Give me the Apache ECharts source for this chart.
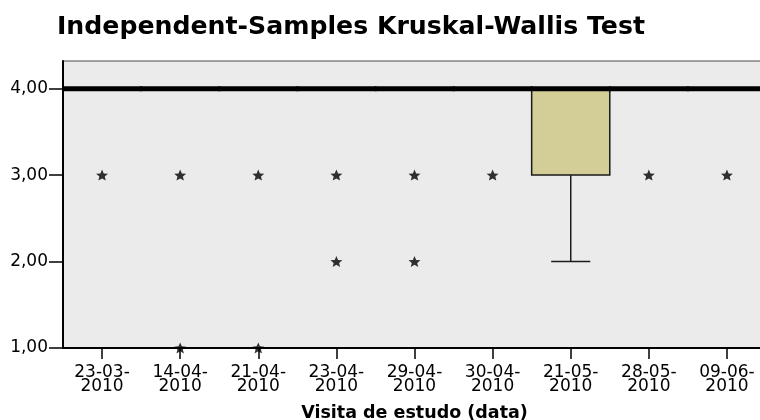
<!DOCTYPE html>
<html>
<head>
<meta charset="utf-8">
<script src="https://cdn.jsdelivr.net/npm/echarts@6/dist/echarts.min.js"></script>
<style>
  html, body { margin: 0; padding: 0; background: #ffffff; }
  #chart { width: 760px; height: 420px; }
</style>
</head>
<body>
<div id="chart"></div>
<script>
// Visit dates (categories)
const categories = ['23-03-2010', '14-04-2010', '21-04-2010', '23-04-2010', '29-04-2010',
                    '30-04-2010', '21-05-2010', '28-05-2010', '09-06-2010'];

// Box statistics per visit
const whiskerLow  = [4, 4, 4, 4, 4, 4, 2, 4, 4];
const quartile1   = [4, 4, 4, 4, 4, 4, 3, 4, 4];
const medians     = [4, 4, 4, 4, 4, 4, 4, 4, 4];
const quartile3   = [4, 4, 4, 4, 4, 4, 4, 4, 4];
const whiskerHigh = [4, 4, 4, 4, 4, 4, 4, 4, 4];

// Extreme values: [category index, value]
const extremes = [
  [0, 3],
  [1, 3], [1, 1],
  [2, 3], [2, 1],
  [3, 3], [3, 2],
  [4, 3], [4, 2],
  [5, 3],
  [7, 3],
  [8, 3]
];

// Y axis tick values
const yTicks = [1, 2, 3, 4];

const boxData = categories.map((c, i) =>
  [i, whiskerLow[i], quartile1[i], medians[i], quartile3[i], whiskerHigh[i]]);

const starPath = 'path://M10,0L12.645,6.359L19.511,6.910L14.280,11.391L15.878,18.090L10,14.5L4.122,18.090L5.720,11.391L0.489,6.910L7.355,6.359Z';

const labelFont = 'DejaVu Sans';

function renderBox(params, api) {
  const idx = api.value(0);
  const lo = api.value(1), q1 = api.value(2), med = api.value(3), q3 = api.value(4), hi = api.value(5);
  const bw = api.size([1, 0])[0];
  const x = api.coord([idx, med])[0];
  const yLo = api.coord([idx, lo])[1];
  const yQ1 = api.coord([idx, q1])[1];
  const yMed = api.coord([idx, med])[1];
  const yQ3 = api.coord([idx, q3])[1];
  const yHi = api.coord([idx, hi])[1];
  const lineStyle = { stroke: '#1a1a1a', lineWidth: 1.5, fill: null };
  const children = [];
  if (lo < q1) {
    children.push({ type: 'line', shape: { x1: x, y1: yQ1, x2: x, y2: yLo }, style: lineStyle });
    children.push({ type: 'line', shape: { x1: x - bw / 4, y1: yLo, x2: x + bw / 4, y2: yLo }, style: lineStyle });
  }
  if (hi > q3) {
    children.push({ type: 'line', shape: { x1: x, y1: yQ3, x2: x, y2: yHi }, style: lineStyle });
    children.push({ type: 'line', shape: { x1: x - bw / 4, y1: yHi, x2: x + bw / 4, y2: yHi }, style: lineStyle });
  }
  if (q3 > q1) {
    children.push({
      type: 'rect',
      shape: { x: x - bw / 2, y: yQ3, width: bw, height: yQ1 - yQ3 },
      style: { fill: '#D3CE97', stroke: '#1a1a1a', lineWidth: 1.5 }
    });
  }
  // median bar, slightly overlapping neighbours so adjacent bars join
  children.push({
    type: 'line',
    shape: { x1: x - bw / 2 - 1, y1: yMed, x2: x + bw / 2 + 1, y2: yMed },
    style: { stroke: '#000000', lineWidth: 5, lineCap: 'butt' }
  });
  return { type: 'group', children: children };
}

const chart = echarts.init(document.getElementById('chart'), null, { renderer: 'canvas' });

chart.setOption({
  animation: false,
  backgroundColor: '#ffffff',
  title: {
    text: 'Independent-Samples Kruskal-Wallis Test',
    left: 52,
    top: 10,
    textStyle: {
      fontFamily: labelFont,
      fontWeight: 'bold',
      fontSize: 25.2,
      color: '#000000'
    }
  },
  grid: {
    left: 63,
    right: -6,
    top: 61,
    bottom: 72,
    outerBoundsMode: 'none',
    show: true,
    backgroundColor: '#EBEBEB',
    borderColor: '#4a4a4a',
    borderWidth: 1
  },
  xAxis: {
    type: 'category',
    data: categories,
    boundaryGap: true,
    name: 'Visita de estudo (data)',
    nameLocation: 'middle',
    nameGap: 56,
    nameTextStyle: {
      fontFamily: labelFont,
      fontWeight: 'bold',
      fontSize: 17.5,
      color: '#000000'
    },
    axisLine: { show: true, lineStyle: { color: '#000000', width: 2 } },
    axisTick: { show: true, alignWithLabel: true, length: 11, lineStyle: { color: '#000000', width: 1.5 } },
    axisLabel: {
      interval: 0,
      margin: 18,
      fontFamily: labelFont,
      fontSize: 17,
      lineHeight: 14,
      color: '#000000',
      formatter: v => v.slice(0, 6) + '\n' + v.slice(6)
    },
    splitLine: { show: false }
  },
  yAxis: {
    type: 'value',
    min: 1,
    max: 4.32,
    axisLine: { show: true, lineStyle: { color: '#000000', width: 2 } },
    axisTick: { show: true, length: 14, customValues: yTicks, lineStyle: { color: '#000000', width: 1.5 } },
    axisLabel: {
      customValues: yTicks,
      margin: 15,
      fontFamily: labelFont,
      fontSize: 17,
      color: '#000000',
      formatter: v => v.toFixed(2).replace('.', ',')
    },
    splitLine: { show: false }
  },
  series: [
    {
      type: 'custom',
      renderItem: renderBox,
      data: boxData,
      encode: { x: 0, y: [1, 2, 3, 4, 5] },
      z: 2
    },
    {
      type: 'scatter',
      data: extremes,
      symbol: starPath,
      symbolSize: [12, 11],
      itemStyle: { color: '#000000' },
      clip: true,
      z: 3
    }
  ]
});
</script>
</body>
</html>
